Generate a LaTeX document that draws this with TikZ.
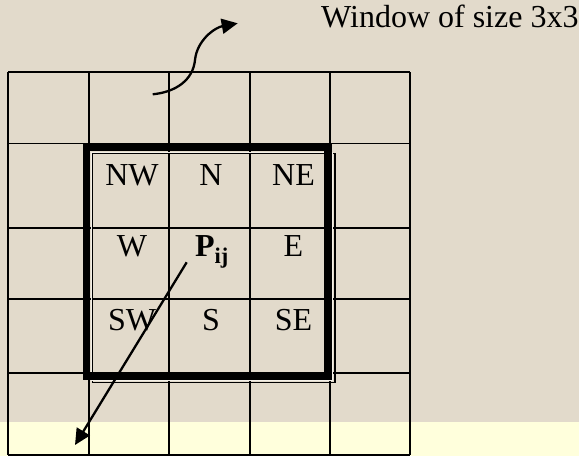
\documentclass[tikz,border=0pt]{standalone}
\usepackage{fontspec}
\setmainfont{Liberation Serif}
\newfontfamily\wgserif{Liberation Serif}
\usepackage{tikz}
\usetikzlibrary{arrows.meta,positioning}
\definecolor{WGBack}{HTML}{E2DACB}
\definecolor{WGBand}{HTML}{FFFFDC}
\definecolor{WGInk}{HTML}{000000}
\definecolor{WGGap}{HTML}{F4F0E8}
\tikzset{
  gridline/.style={WGInk,line width=1.9pt},
  winthick/.style={WGInk,line width=7.6pt},
  winthin/.style={WGInk,line width=1.2pt},
  pointer/.style={-{Triangle[length=16pt,width=15pt]},WGInk,line width=2.3pt},
  cell/.style={text=WGInk,anchor=base,inner sep=0pt,font=\wgserif\fontsize{32}{38}\selectfont},
  caption/.style={cell,anchor=base west},
}

\begin{document}
\begin{tikzpicture}[x=1pt,y=-1pt]
    \useasboundingbox (0,0) rectangle (579,456);
    % Paper and the light band along the bottom.
    \fill[WGBack] (0,0) rectangle (579,456);
    \fill[WGBand] (0,421.7) rectangle (579,456);

    % The 5x5 grid of pixels.
    \foreach \gx in {8,89.3,169.3,250,330,410}{
      \draw[gridline] (\gx,72) -- (\gx,455);
    }
    \foreach \gy in {72,143.5,228,299,373,455}{
      \draw[gridline] (8,\gy) -- (410,\gy);
    }

    % The 3x3 window: thin frame with a heavy frame over it.
    \draw[winthin] (92.6,153.6) rectangle (335,382.6);
    \draw[WGGap,line width=0.8pt] (91.6,152.6) rectangle (332.6,380.2);
    \draw[winthick] (86.6,147.4) rectangle (328,375.8);

    % Neighbour labels.
    \node[cell] (nw) at (132,185)   {NW};
    \node[cell] (n)  at (211,185)   {N};
    \node[cell] (ne) at (293.5,185) {NE};
    \node[cell] (w)  at (132,256.7) {W};
    \node[cell] (pij) at (212,256.7) {\textbf{P\textsubscript{ij}}};
    \node[cell] (e)  at (293.5,256.7) {E};
    \node[cell] (sw) at (132,330)   {SW};
    \node[cell] (s)  at (211,330)   {S};
    \node[cell] (se) at (293.5,330) {SE};

    \node[caption] (title) at (321,27.7) {Window of size 3x3};

    % Pointers.
    \coordinate (winfrom) at (152.7,94.3);
    \coordinate (winbend) at (195,60);
    \coordinate (winto)   at (237.7,23.3);
    \draw[pointer] (winfrom) .. controls (176,92) and (193,80) .. (winbend)
                             .. controls (197,40) and (215,27.5) .. (winto);

    \coordinate (pfrom) at (186.7,262.3);
    \coordinate (pto)   at (75,445);
    \draw[pointer] (pfrom) -- (pto);
  \end{tikzpicture}
\end{document}
